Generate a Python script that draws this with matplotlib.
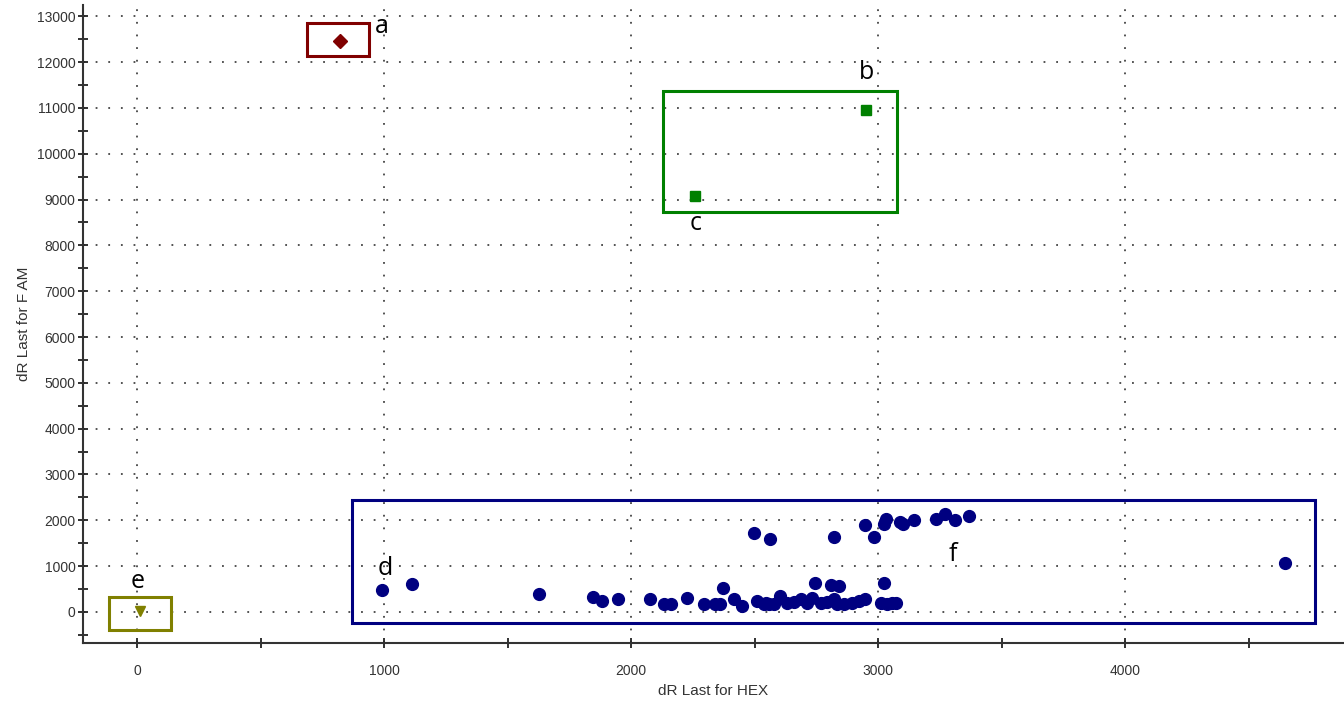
import matplotlib.pyplot as plt
from matplotlib.patches import Rectangle
from matplotlib.ticker import MultipleLocator

plt.rcParams['font.family'] = ['Liberation Sans', 'DejaVu Sans']

# group a
a_x = [820]
a_y = [12460]
# groups b / c
bc_x = [2949, 2259]
bc_y = [10964, 9080]
# group e
e_x = [12]
e_y = [14]
# group d / f
f_x = [993, 1112, 1628, 1846, 1880, 1946, 2077, 2134, 2161, 2226, 2293, 2341,
       2361, 2372, 2415, 2449, 2510, 2537, 2557, 2544, 2577, 2604, 2632, 2659,
       2686, 2713, 2733, 2742, 2767, 2794, 2821, 2807, 2841, 2834, 2861, 2895,
       2922, 2945, 3024, 3010, 3037, 3057, 3071,
       2498, 2563, 2822, 2947, 2983, 3022, 3030, 3088, 3099, 3146, 3233, 3270,
       3311, 3366, 4647]
f_y = [469, 606, 390, 318, 231, 282, 271, 162, 162, 307, 162, 177,
       177, 523, 270, 126, 234, 162, 177, 199, 162, 342, 199, 220,
       270, 199, 307, 632, 199, 220, 270, 595, 558, 162, 162, 199,
       234, 270, 632, 199, 162, 199, 199,
       1711, 1588, 1639, 1906, 1625, 1928, 2036, 1964, 1928, 2014, 2036, 2130,
       2000, 2087, 1061]

# boxes: (x0, y0, x1, y1)
boxes = {
    'a': (688, 12141, 939, 12845, '#800000'),
    'bc': (2128, 8731, 3074, 11371, '#008000'),
    'e': (-115, -393, 138, 314, '#808000'),
    'f': (869, -238, 4768, 2448, '#000080'),
}
letters = ['a', 'b', 'c', 'd', 'e', 'f']
letter_x = [992, 2953, 2259, 1003, 3, 3303]
letter_y = [12775, 11785, 8480, 943, 657, 1242]

fig = plt.figure(figsize=(13.44, 7.05), dpi=100)
ax = fig.add_axes([0.062, 0.088, 0.937, 0.905])

ax.plot(f_x, f_y, 'o', color='#000080', ms=8.5, ls='none', zorder=3)
ax.plot(a_x, a_y, 'D', color='#800000', ms=7, ls='none', zorder=3)
ax.plot(bc_x, bc_y, 's', color='#008000', ms=7.5, ls='none', zorder=3)
ax.plot(e_x, e_y, 'v', color='#808000', ms=7.5, ls='none', zorder=3)

for key, (x0, y0, x1, y1, c) in boxes.items():
    ax.add_patch(Rectangle((x0, y0), x1 - x0, y1 - y0, fill=False,
                           edgecolor=c, lw=2.2, zorder=4))

for t, x, y in zip(letters, letter_x, letter_y):
    ax.text(x, y, t, fontsize=18, ha='center', va='center',
            family=['Open Sans', 'DejaVu Sans'], zorder=5)

ax.set_xlim(-218, 4880)
ax.set_ylim(-680, 13250)
ax.xaxis.set_major_locator(MultipleLocator(1000))
ax.xaxis.set_minor_locator(MultipleLocator(500))
ax.yaxis.set_major_locator(MultipleLocator(1000))
ax.yaxis.set_minor_locator(MultipleLocator(500))
ax.grid(True, which='major', ls=(0, (1, 6)), color='#444444', lw=1.3)
ax.set_axisbelow(True)

for s in ['top', 'right']:
    ax.spines[s].set_visible(False)
for s in ['left', 'bottom']:
    ax.spines[s].set_color('#333333')
    ax.spines[s].set_linewidth(1.5)

ax.tick_params(which='both', direction='inout', length=7, width=1.3,
               color='#222222', labelsize=10, labelcolor='#333333')
ax.tick_params(axis='x', pad=12)
ax.tick_params(axis='y', pad=2)

ax.set_xlabel('dR Last for HEX', fontsize=11, color='#333333', labelpad=4)
ax.set_ylabel('dR Last for F AM', fontsize=11, color='#333333', labelpad=4)

fig.savefig('out.png', dpi=100)
